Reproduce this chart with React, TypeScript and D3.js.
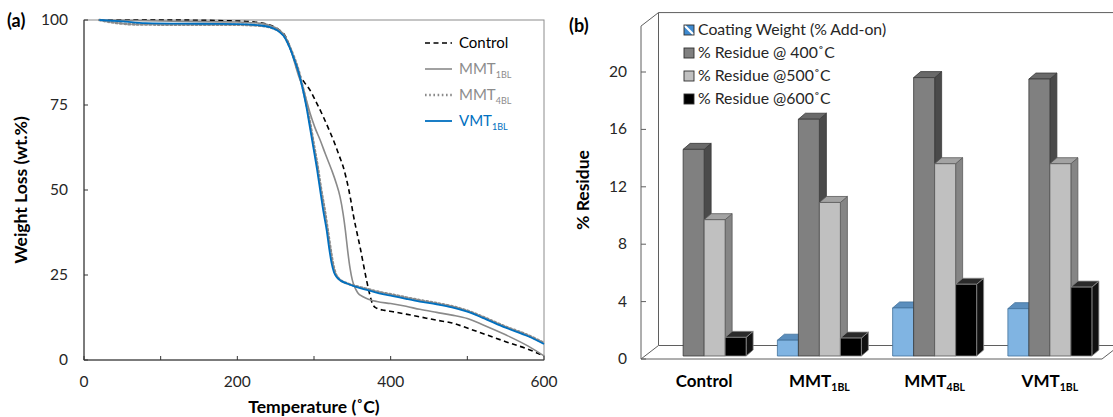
import * as d3 from 'd3';

// ---- (a) TGA curves: [temperature °C, weight %]
const controlCurve: [number, number][] = [
  [20, 100], [100, 100], [200, 99.7], [230, 99.2], [245, 98.3], [255, 97], [262, 95.5], [268, 92.5],
  [274, 88.5], [279, 84.8], [287, 81.8], [295, 79.3], [303, 75.8], [312, 71.6], [320, 67.5],
  [327, 63.7], [333, 60], [338, 56.9], [342, 53.5], [345, 50.5], [348, 47], [351, 43], [356, 37.5],
  [360, 33.3], [365, 27.5], [369, 23], [373, 19], [377, 16.2], [382, 15.2], [392, 14.6], [403, 14.2],
  [420, 13.5], [438, 12.7], [460, 11.7], [480, 10.9], [500, 9.4], [520, 7.8], [550, 5.4], [580, 3.1], [600, 1.2],
];
const mmt1Curve: [number, number][] = [
  [20, 100], [100, 99.7], [200, 99.4], [230, 99], [245, 98.2], [255, 97], [262, 95.3], [268, 92.3],
  [274, 88], [280, 83.5], [285, 80.5], [290, 76.5], [295, 72.5], [301, 68.5], [308, 64.7], [315, 60.5],
  [323, 55.9], [329, 52], [334, 48], [338, 43], [341, 38], [344, 32], [347, 27], [350, 23.5], [353, 21.5],
  [357, 19.8], [364, 18.6], [372, 17.8], [382, 17.2], [400, 16.6], [420, 15.8], [438, 14.9], [460, 14],
  [480, 13.2], [500, 12.2], [520, 10.4], [550, 7.4], [580, 4], [600, 1.2],
];
const mmt4Curve: [number, number][] = [
  [20, 100], [40, 99.2], [70, 98.7], [150, 98.6], [200, 98.6], [230, 98.3], [245, 97.7], [255, 96.6],
  [262, 95], [268, 92.3], [274, 89], [280, 85], [285, 80.5], [290, 75.5], [295, 69.5], [300, 63],
  [305, 56.5], [309, 50.5], [314, 44], [318, 38], [322, 32], [325, 28], [328, 25.5], [332, 24], [338, 23],
  [345, 22.4], [355, 21.7], [369, 20.9], [385, 20], [403, 19.2], [420, 18.4], [438, 17.6], [460, 16.7],
  [480, 15.8], [500, 14.5], [520, 12.7], [550, 9.8], [580, 7.2], [600, 5],
];
const vmt1Curve: [number, number][] = [
  [20, 100], [50, 99.6], [80, 99.1], [150, 98.9], [200, 98.8], [230, 98.4], [245, 97.7], [255, 96.5],
  [262, 94.8], [268, 92], [274, 88.5], [280, 84.5], [285, 80], [290, 74.5], [295, 68], [299, 62.7],
  [304, 56], [308, 50], [312, 44], [316.5, 38.2], [320, 32.5], [323, 28.4], [326, 25.8], [330, 24.3],
  [336, 23.2], [343, 22.5], [355, 21.5], [369, 20.6], [385, 19.6], [403, 18.8], [420, 18], [438, 17.2],
  [460, 16.4], [480, 15.5], [500, 14.2], [520, 12.4], [550, 9.5], [580, 6.9], [600, 4.7],
];
const tempTickLabels = [0, 200, 400, 600];
const tempMinorTicks = [100, 300, 500];
const weightTicks = [0, 25, 50, 75, 100];

// ---- (b) residue bars
const categories = ['Control', 'MMT', 'MMT', 'VMT'];
const categorySubs = ['', '1BL', '4BL', '1BL'];
const coatingWeight = [0, 1.1, 3.35, 3.3];
const residue400 = [14.4, 16.5, 19.4, 19.3];
const residue500 = [9.5, 10.7, 13.4, 13.4];
const residue600 = [1.3, 1.25, 5.0, 4.8];
const residueTicks = [0, 4, 8, 12, 16, 20];
const seriesNames = ['Coating Weight (% Add-on)', '% Residue @ 400˚C', '% Residue @500˚C', '% Residue @600˚C'];

const FONT = 'Lato, "Open Sans", sans-serif';

function PanelA() {
  const x = d3.scaleLinear().domain([0, 600]).range([84, 544]);
  const y = d3.scaleLinear().domain([0, 100]).range([360, 20]);
  const line = d3.line<[number, number]>().x(d => x(d[0])).y(d => y(d[1])).curve(d3.curveMonotoneX);

  const series = [
    { name: 'Control', sub: '', data: controlCurve, color: '#000', text: '#000', width: 1.6, dash: '5,3.5' },
    { name: 'MMT', sub: '1BL', data: mmt1Curve, color: '#8a8a8a', text: '#8c8c8c', width: 1.6, dash: '' },
    { name: 'MMT', sub: '4BL', data: mmt4Curve, color: '#8a8a8a', text: '#8c8c8c', width: 2.6, dash: '1.6,2.6' },
    { name: 'VMT', sub: '1BL', data: vmt1Curve, color: '#0070C0', text: '#0070C0', width: 1.8, dash: '' },
  ];

  return (
    <g fontFamily={FONT}>
      <text x={7} y={27} fontSize={18} fontWeight={700}>(a)</text>
      <rect x={84} y={20} width={460} height={340} fill="none" stroke="#8c8c8c" strokeWidth={1} />
      <line x1={84} x2={84} y1={20} y2={360} stroke="#333" />
      <line x1={84} x2={544} y1={360} y2={360} stroke="#333" />
      {weightTicks.map(t => (
        <g key={t}>
          <line x1={84} x2={88} y1={y(t)} y2={y(t)} stroke="#333" />
          <text x={68} y={y(t) + 5} fontSize={15.5} textAnchor="end" fill="#262626">{t}</text>
        </g>
      ))}
      {tempTickLabels.concat(tempMinorTicks).map(t => (
        <line key={t} x1={x(t)} x2={x(t)} y1={360} y2={356} stroke="#333" />
      ))}
      {tempTickLabels.map(t => (
        <text key={t} x={x(t)} y={387} fontSize={15.5} textAnchor="middle" fill="#262626">{t}</text>
      ))}
      <text x={314} y={413} fontSize={17.5} fontWeight={700} textAnchor="middle">Temperature (˚C)</text>
      <text transform={`translate(27,190) rotate(-90)`} fontSize={17.5} fontWeight={700} textAnchor="middle">
        Weight Loss (wt.%)
      </text>
      {series.map((s, i) => (
        <path key={i} d={line(s.data) ?? ''} fill="none" stroke={s.color} strokeWidth={s.width}
          strokeDasharray={s.dash || undefined} strokeLinecap={s.dash.startsWith('1.6') ? 'round' : 'butt'} />
      ))}
      {series.map((s, i) => {
        const ly = 43 + i * 26;
        return (
          <g key={i}>
            <line x1={425} x2={452} y1={ly} y2={ly} stroke={s.color} strokeWidth={s.width}
              strokeDasharray={s.dash || undefined} />
            <text x={459} y={ly + 5} fontSize={15} fill={s.text}>
              {s.name}
              {s.sub && <tspan fontSize={9} dy={4}>{s.sub}</tspan>}
            </text>
          </g>
        );
      })}
    </g>
  );
}

function PanelB() {
  const x0 = d3.scaleBand<number>().domain(d3.range(categories.length)).range([641, 1102]);
  const bw = x0.bandwidth();
  const x1 = d3.scaleBand<number>().domain([0, 1, 2, 3]).range([(bw - 84) / 2, (bw + 84) / 2]);
  const y = d3.scaleLinear().domain([0, 20]).range([359, 72]);
  const wall = [17.5, -13.5];
  const barOff = [5.5, -3];
  const bd = [7, -6];
  const values = [coatingWeight, residue400, residue500, residue600];
  const faces = [
    { front: '#80B4E2', top: '#5B8EBD', side: '#4E7EA8', stroke: '#41719C' },
    { front: '#808080', top: '#6a6a6a', side: '#4a4a4a', stroke: '#3a3a3a' },
    { front: '#C0C0C0', top: '#a3a3a3', side: '#858585', stroke: '#595959' },
    { front: '#000000', top: '#2a2a2a', side: '#111111', stroke: '#8a8a8a' },
  ];
  const yTop = y(23.2);
  const left = 641, right = 1102, base = y(0);
  const pts = (a: number[][]) => a.map(p => p.join(',')).join(' ');

  return (
    <g fontFamily={FONT}>
      <text x={569} y={32} fontSize={18} fontWeight={700}>(b)</text>
      {/* walls and floor */}
      <g fill="none" stroke="#5f5f5f" strokeWidth={1}>
        <line x1={left + wall[0]} x2={1113} y1={yTop + wall[1]} y2={yTop + wall[1]} />
        <line x1={left + wall[0]} x2={left + wall[0]} y1={yTop + wall[1]} y2={base + wall[1]} />
        <line x1={left} x2={left + wall[0]} y1={yTop} y2={yTop + wall[1]} />
        <line x1={left} x2={left} y1={yTop} y2={base} />
        <polygon points={pts([[left, base], [right, base], [right + wall[0], base + wall[1]], [left + wall[0], base + wall[1]]])} fill="#fff" />
      </g>
      {residueTicks.map(t => (
        <g key={t}>
          <line x1={left} x2={left + 5} y1={y(t)} y2={y(t)} stroke="#5f5f5f" />
          <text x={627} y={y(t) + 5} fontSize={15.5} textAnchor="end" fill="#262626">{t}</text>
        </g>
      ))}
      <text transform={`translate(589,190) rotate(-90)`} fontSize={17.5} fontWeight={700} textAnchor="middle">% Residue</text>
      {categories.map((c, ci) => (
        <g key={ci}>
          {values.map((vals, si) => {
            const v = vals[ci];
            if (v <= 0) return null;
            const f = faces[si];
            const xl = (x0(ci) ?? 0) + (x1(si) ?? 0) + barOff[0];
            const xr = xl + x1.bandwidth();
            const yb = base + barOff[1];
            const yt = y(v) + barOff[1];
            return (
              <g key={si} strokeWidth={0.8} stroke={f.stroke} strokeLinejoin="round">
                <polygon points={pts([[xr, yt], [xr + bd[0], yt + bd[1]], [xr + bd[0], yb + bd[1]], [xr, yb]])} fill={f.side} />
                <polygon points={pts([[xl, yt], [xr, yt], [xr + bd[0], yt + bd[1]], [xl + bd[0], yt + bd[1]]])} fill={f.top} />
                <rect x={xl} y={yt} width={xr - xl} height={yb - yt} fill={f.front} />
              </g>
            );
          })}
          <text x={(x0(ci) ?? 0) + bw / 2 + barOff[0]} y={387} fontSize={17} fontWeight={700} textAnchor="middle">
            {c}
            {categorySubs[ci] && <tspan fontSize={10.5} dy={4}>{categorySubs[ci]}</tspan>}
          </text>
        </g>
      ))}
      {/* legend */}
      {seriesNames.map((n, i) => {
        const ly = 30 + i * 23;
        return (
          <g key={i}>
            {i === 0 ? (
              <g>
                <rect x={684} y={ly - 5} width={10} height={10} fill="#3E8AD0" />
                <line x1={684} y1={ly - 5} x2={694} y2={ly + 5} stroke="#fff" strokeWidth={2.2} />
                <rect x={684} y={ly - 5} width={10} height={10} fill="none" stroke="#2f2f2f" strokeWidth={0.9} />
              </g>
            ) : (
              <rect x={684} y={ly - 5} width={10} height={10} fill={faces[i].front} stroke="#2f2f2f" strokeWidth={0.9} />
            )}
            <text x={698} y={ly + 5} fontSize={15.8} fill="#262626">{n}</text>
          </g>
        );
      })}
    </g>
  );
}

export default function App() {
  return (
    <svg width={1113} height={417} style={{ position: 'absolute', left: 0, top: 0, background: '#fff' }}>
      <rect width={1113} height={417} fill="#fff" />
      <PanelA />
      <PanelB />
    </svg>
  );
}
